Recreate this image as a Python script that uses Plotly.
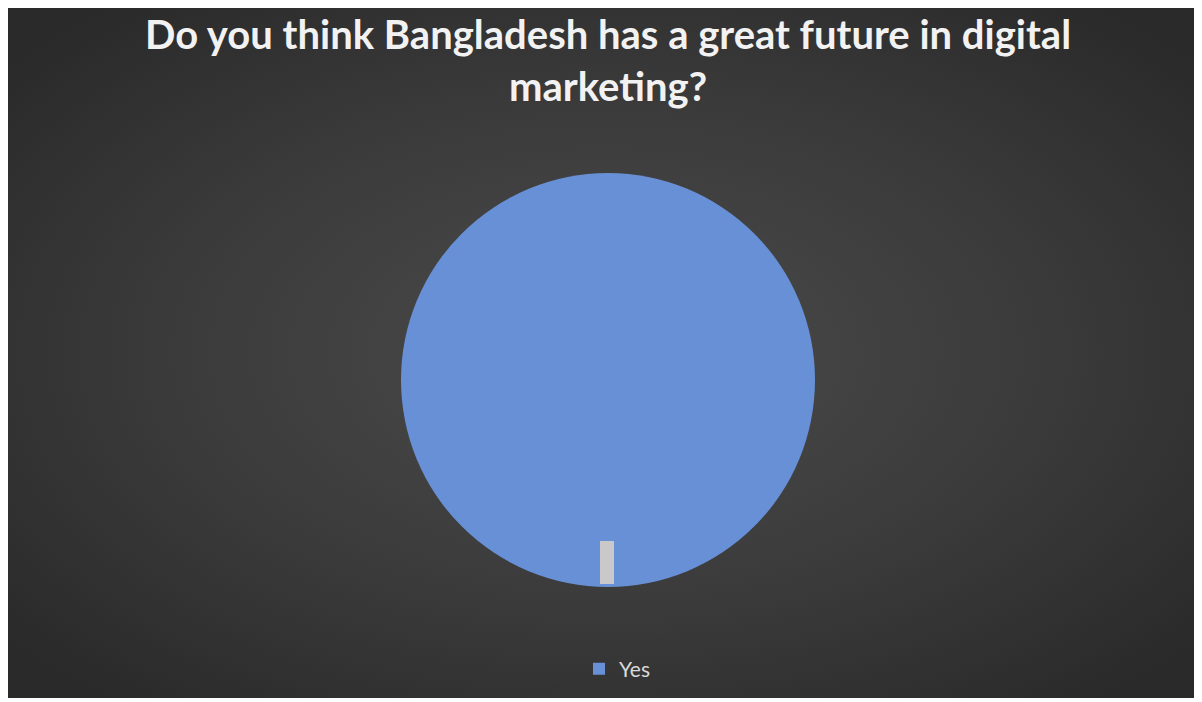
import base64
import plotly.graph_objects as go

# Data
labels = ["Yes"]
values = [100]

title_text = "Do you think Bangladesh has a great future in digital<br>marketing?"

# The page body adds an 8px offset; the figure is sized to fill the rest.
W, H = 1194, 694

# radial gradient background (styling only)
svg = """<svg xmlns='http://www.w3.org/2000/svg' width='1194' height='690' viewBox='0 0 1194 690'>
<defs><radialGradient id='g' cx='50%' cy='50%' r='65%'>
<stop offset='0%' stop-color='#4b4b4b'/>
<stop offset='55%' stop-color='#3b3b3b'/>
<stop offset='100%' stop-color='#2a2a2a'/>
</radialGradient></defs>
<rect width='1194' height='690' fill='url(#g)'/></svg>"""
bg_uri = "data:image/svg+xml;base64," + base64.b64encode(svg.encode()).decode()

fig = go.Figure()
fig.add_trace(go.Pie(
    labels=labels,
    values=values,
    marker=dict(colors=["#6890d6"], line=dict(width=0)),
    textinfo="none",
    hoverinfo="label+percent",
    sort=False,
    direction="clockwise",
    rotation=0,
    domain=dict(x=[393 / W, 807 / W], y=[114 / H, 530 / H]),
    showlegend=True,
))

fig.update_layout(
    width=W, height=H,
    margin=dict(l=0, r=0, t=0, b=0),
    paper_bgcolor="white",
    plot_bgcolor="white",
    images=[dict(
        source=bg_uri, xref="paper", yref="paper",
        x=0, y=1, sizex=1, sizey=690 / H,
        xanchor="left", yanchor="top", sizing="stretch", layer="below",
    )],
    annotations=[dict(
        text=title_text, showarrow=False,
        xref="paper", yref="paper",
        x=(608 - 8) / W, xanchor="center",
        y=1 - 0 / H, yanchor="top",
        align="center",
        font=dict(family="Lato, Open Sans, sans-serif", size=40, color="#f2f2f2", weight="bold"),
    )],
    legend=dict(
        orientation="h",
        x=(617 - 8) / W, xanchor="center",
        y=(H - 661) / H, yanchor="middle",
        font=dict(family="Lato, Open Sans, sans-serif", size=21, color="#d9d9d9"),
        bgcolor="rgba(0,0,0,0)",
        itemwidth=30,
    ),
    shapes=[dict(
        type="rect", xref="paper", yref="paper",
        x0=592 / W, x1=606 / W, y0=(H - 576) / H, y1=(H - 533) / H,
        fillcolor="#c9c9c9", line=dict(width=0), layer="above",
    )],
)

fig.write_html("out.html")
